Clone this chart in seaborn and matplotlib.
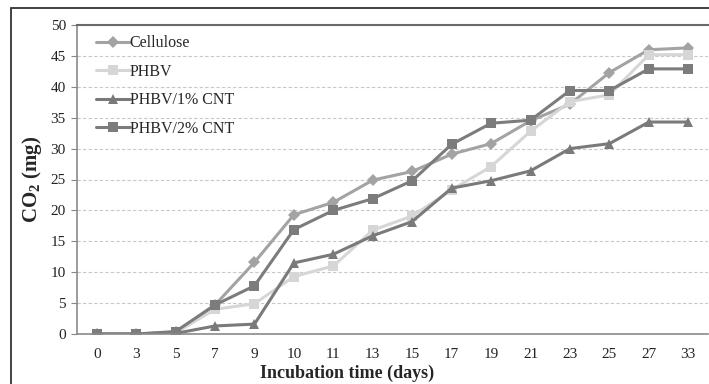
import numpy as np
import pandas as pd
import seaborn as sns
import matplotlib.pyplot as plt
from matplotlib.patches import Rectangle
from matplotlib.ticker import FixedLocator, MultipleLocator

# incubation days (equally spaced categories on the chart)
days = ["0", "3", "5", "7", "9", "10", "11", "13", "15", "17", "19", "21", "23", "25", "27", "33"]

cellulose = [0, 0, 0.3, 4.7, 11.6, 19.3, 21.3, 24.9, 26.3, 29.1, 30.8, 34.5, 37.2, 42.3, 46.0, 46.3]
phbv      = [0, 0, 0.2, 4.0, 4.9, 9.3, 11.0, 16.8, 19.1, 23.3, 27.1, 32.8, 37.6, 38.7, 45.2, 45.2]
phbv_1cnt = [0, 0, 0.1, 1.3, 1.6, 11.5, 12.9, 15.9, 18.2, 23.6, 24.8, 26.4, 30.0, 30.8, 34.3, 34.3]
phbv_2cnt = [0, 0, 0.4, 4.7, 7.8, 16.9, 20.0, 21.9, 24.8, 30.7, 34.1, 34.6, 39.4, 39.4, 42.9, 42.9]

series = {
    "Cellulose": cellulose,
    "PHBV": phbv,
    "PHBV/1% CNT": phbv_1cnt,
    "PHBV/2% CNT": phbv_2cnt,
}
colors = {"Cellulose": "#a3a3a3", "PHBV": "#d6d6d6", "PHBV/1% CNT": "#7a7a7a", "PHBV/2% CNT": "#7c7c7c"}
markers = {"Cellulose": "D", "PHBV": "s", "PHBV/1% CNT": "^", "PHBV/2% CNT": "s"}
msizes = {"Cellulose": 6, "PHBV": 7.5, "PHBV/1% CNT": 7.5, "PHBV/2% CNT": 7.5}

sns.set_style("white")
plt.rcParams["font.family"] = ["Liberation Serif", "DejaVu Serif"]
plt.rcParams["mathtext.fontset"] = "custom"
plt.rcParams["mathtext.rm"] = "Liberation Serif"
plt.rcParams["mathtext.bf"] = "Liberation Serif:bold"

fig = plt.figure(figsize=(7.09, 3.84), dpi=100)
ax = fig.add_axes([77 / 709, 1 - 334 / 384, 631 / 709, (334 - 25) / 384])

for name, vals in series.items():
    df = pd.DataFrame({"day": days, "co2": vals})
    sns.lineplot(data=df, x="day", y="co2", ax=ax, sort=False, label=name,
                 color=colors[name], marker=markers[name], markersize=msizes[name],
                 markeredgewidth=0, linewidth=2.2)

ax.set_xlim(-0.5, len(days) - 0.5)
ax.set_ylim(0, 50)
ax.yaxis.set_major_locator(MultipleLocator(5))
ax.grid(axis="y", color="#c8c8c8", linestyle=(0, (3, 2)), linewidth=0.8)
ax.set_axisbelow(True)

ax.xaxis.set_minor_locator(FixedLocator(np.arange(-0.5, len(days), 1)))
ax.tick_params(axis="x", which="major", length=0, labelsize=11, pad=10, colors="#222222")
ax.tick_params(axis="x", which="minor", length=4, direction="out", color="#888888", width=1)
ax.tick_params(axis="y", which="major", length=4, direction="out", color="#888888",
               labelsize=11, pad=4, labelcolor="#222222")
ax.tick_params(left=True, bottom=True)

for s in ["left", "bottom"]:
    ax.spines[s].set_color("#8a8a8a")
    ax.spines[s].set_linewidth(1.2)
ax.spines["top"].set_color("#6a6a6a")
ax.spines["top"].set_linewidth(1.5)
ax.spines["right"].set_visible(False)

ax.set_xlabel("Incubation time (days)", fontsize=13, fontweight="bold")
ax.xaxis.set_label_coords((347 - 77) / 631, -(373 - 334) / 309, transform=ax.transAxes)
ax.xaxis.label.set_va("center")
ax.set_ylabel(r"$\mathbf{CO_2}$ (mg)", fontsize=15, fontweight="bold")
ax.yaxis.set_label_coords(-(77 - 32) / 631, 0.5)
ax.yaxis.label.set_va("center")

leg = ax.legend(loc="upper left", frameon=False, fontsize=11.5, handlelength=2.1,
                handletextpad=0.0, labelspacing=0.78, borderaxespad=0.4,
                bbox_to_anchor=(0.01, 1.008))

# outer frame of the original figure
fig.patches.append(Rectangle((11 / 709, -0.2), 1.2, 1 - 8 / 384 + 0.2, transform=fig.transFigure,
                             fill=False, edgecolor="#333333", linewidth=1.3))

fig.savefig("out.png", dpi=100)
